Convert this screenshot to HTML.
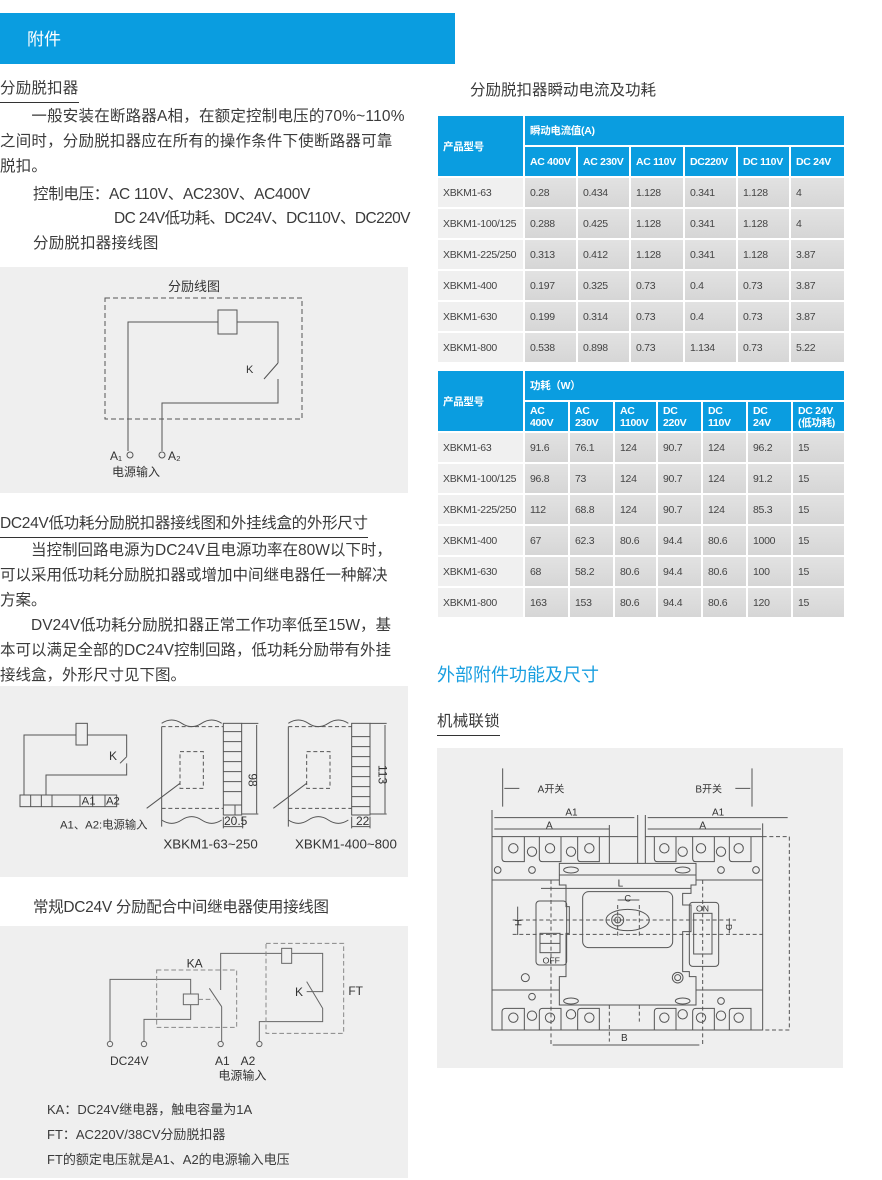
<!DOCTYPE html>
<html><head><meta charset="utf-8"><style>
*{margin:0;padding:0;box-sizing:border-box}
body{width:882px;height:1180px;background:#fff;position:relative;overflow:hidden;font-family:"Liberation Sans","Noto Sans CJK SC",sans-serif;color:#3a3a3a}
.a{position:absolute;white-space:nowrap}
.t{font-size:15.5px;line-height:25px;letter-spacing:0.2px}
.u{border-bottom:1.5px solid #333;padding-bottom:1px}
.panel{position:absolute;background:#efefef}
table{position:absolute;border-collapse:collapse;font-size:10.5px;font-family:"Liberation Sans","Noto Sans CJK SC",sans-serif;table-layout:fixed}
td,th{border:2px solid #fff;padding:0 0 0 5px;text-align:left;height:31px;white-space:nowrap;overflow:hidden;letter-spacing:-0.3px}
th{background:#0a9de0;color:#fff;font-weight:bold;font-size:10.5px}
td{background:linear-gradient(#e2e2e2,#d6d6d6);color:#444}
td.f{background:#f0f0f0}
svg{position:absolute}
svg text{font-family:"Liberation Sans","Noto Sans CJK SC",sans-serif;fill:#333}
</style></head><body>

<div class="a" style="left:0;top:13px;width:455px;height:51px;background:#0a9de0"></div>
<div class="a" style="left:27px;top:25px;color:#fff;font-size:17px">附件</div>

<div class="a t u" style="left:0;top:76px">分励脱扣器</div>
<div class="a t" style="left:0;top:104px">　　一般安装在断路器A相，在额定控制电压的70%~110%<br>之间时，分励脱扣器应在所有的操作条件下使断路器可靠<br>脱扣。</div>
<div class="a t" style="left:33px;top:182px;letter-spacing:-0.3px">控制电压：AC 110V、AC230V、AC400V</div>
<div class="a t" style="left:114px;top:206px;letter-spacing:-0.6px">DC 24V低功耗、DC24V、DC110V、DC220V</div>
<div class="a t" style="left:33px;top:231px">分励脱扣器接线图</div>

<div class="panel" style="left:0;top:267px;width:408px;height:226px"></div>
<svg style="left:0;top:267px" width="408" height="226" viewBox="0 0 408 226">
<text x="168" y="24" font-size="13">分励线图</text>
<rect x="105" y="31" width="197" height="121" fill="none" stroke="#555" stroke-dasharray="5,3"/>
<rect x="218" y="43" width="19" height="24" fill="none" stroke="#555"/>
<g fill="none" stroke="#555">
<polyline points="237,55 278,55 278,96"/>
<line x1="278" y1="96" x2="264" y2="112"/>
<polyline points="278,112 278,136 171,136 162,136 162,184"/>
<polyline points="218,55 128,55 128,184"/>
<circle cx="130" cy="188" r="3"/><circle cx="162" cy="188" r="3"/>
</g>
<text x="246" y="106" font-size="11">K</text>
<text x="110" y="193" font-size="12">A₁</text><text x="168" y="193" font-size="12">A₂</text>
<text x="112" y="209" font-size="12">电源输入</text>
</svg>

<div class="a t u" style="left:0;top:511px;letter-spacing:-0.3px">DC24V低功耗分励脱扣器接线图和外挂线盒的外形尺寸</div>
<div class="a t" style="left:0;top:538px;letter-spacing:0">　　当控制回路电源为DC24V且电源功率在80W以下时，<br>可以采用低功耗分励脱扣器或增加中间继电器任一种解决<br>方案。<br>　　DV24V低功耗分励脱扣器正常工作功率低至15W，基<br>本可以满足全部的DC24V控制回路，低功耗分励带有外挂<br>接线盒，外形尺寸见下图。</div>

<div class="panel" style="left:0;top:686px;width:408px;height:191px"></div>
<svg style="left:0;top:680px" width="410" height="200" viewBox="0 0 1230 600">
<g fill="none" stroke="#555" stroke-width="3">
<rect x="228" y="130" width="34" height="65"/>
<polyline points="228,165 72,165 72,345"/>
<polyline points="262,165 380,165 380,230"/>
<line x1="380" y1="230" x2="360" y2="250"/>
<polyline points="380,250 380,285 138,285 138,345"/>
<rect x="60" y="345" width="290" height="35"/>
<line x1="92" y1="345" x2="92" y2="380"/><line x1="124" y1="345" x2="124" y2="380"/><line x1="156" y1="345" x2="156" y2="380"/><line x1="240" y1="345" x2="240" y2="380"/><line x1="278" y1="345" x2="278" y2="380"/><line x1="315" y1="345" x2="315" y2="380"/>
<path d="M485,140 V440 M485,130 q30,-20 60,0 t60,0 t60,0"/>
<path d="M485,420 q30,20 60,0 t60,0 t60,0"/>
<rect x="670" y="130" width="55" height="275"/>
<path d="M670,155 h55 M670,185 h55 M670,215 h55 M670,245 h55 M670,275 h55 M670,305 h55 M670,335 h55 M670,375 h55 M705,375 v30"/>
<path d="M725,130 h50 M725,402 h50 M770,135 v265 M670,440 h60 M670,410 v35 M728,410 v35"/>
<path d="M865,140 V440 M865,130 q30,-20 60,0 t60,0 t60,0 M865,420 q30,20 60,0 t60,0 t60,0"/>
<rect x="1055" y="130" width="55" height="275"/>
<path d="M1055,170 h55 M1055,200 h55 M1055,230 h55 M1055,260 h55 M1055,290 h55 M1055,320 h55 M1055,350 h55 M1055,380 h55 M1110,130 h50 M1110,402 h50 M1155,135 v265 M1055,440 h55 M1055,410 v35 M1110,410 v35"/>
<path d="M440,385 L540,310 M820,385 L920,310"/>
</g>
<g fill="none" stroke="#555" stroke-width="3" stroke-dasharray="12,8">
<path d="M485,140 H670 M485,385 H670 M865,140 H1055 M865,385 H1055"/>
<rect x="540" y="215" width="70" height="110"/><rect x="920" y="215" width="70" height="110"/>
</g>
<text x="327" y="240" font-size="36">K</text>
<text x="245" y="374" font-size="34">A1</text><text x="318" y="374" font-size="34">A2</text>
<text x="180" y="445" font-size="34">A1、A2:电源输入</text>
<text x="672" y="435" font-size="36">20.5</text><text x="1068" y="435" font-size="36">22</text>
<text x="745" y="280" font-size="36" transform="rotate(90 745 280)">98</text>
<text x="1135" y="255" font-size="36" transform="rotate(90 1135 255)">113</text>
<text x="490" y="505" font-size="40">XBKM1-63~250</text><text x="885" y="505" font-size="40">XBKM1-400~800</text>
</svg>

<div class="a t" style="left:33px;top:895px;letter-spacing:-0.3px">常规DC24V 分励配合中间继电器使用接线图</div>
<div class="panel" style="left:0;top:926px;width:408px;height:252px"></div>
<svg style="left:0;top:920px" width="410" height="180" viewBox="0 0 1230 540">
<g fill="none" stroke="#666" stroke-width="3">
<polyline points="330,365 330,178 572,178 572,222"/>
<rect x="550" y="222" width="45" height="32"/>
<polyline points="572,254 572,298 432,298 432,365"/>
<path d="M628,205 L665,260 M665,260 V365 M662,210 V100 H845"/>
<rect x="845" y="85" width="30" height="45"/>
<polyline points="875,100 968,100 968,215 920,215"/>
<path d="M920,185 L968,265 V305 H778 V365"/>
<circle cx="330" cy="372" r="8"/><circle cx="432" cy="372" r="8"/><circle cx="662" cy="372" r="8"/><circle cx="778" cy="372" r="8"/>
</g>
<g fill="none" stroke="#888" stroke-width="3" stroke-dasharray="14,8">
<rect x="470" y="150" width="240" height="172"/><rect x="798" y="70" width="233" height="270"/>
<path d="M595,238 H640"/>
</g>
<text x="560" y="142" font-size="36">KA</text><text x="885" y="228" font-size="36">K</text><text x="1045" y="225" font-size="36">FT</text>
<text x="330" y="435" font-size="36">DC24V</text><text x="645" y="435" font-size="36">A1</text><text x="722" y="435" font-size="36">A2</text>
<text x="655" y="478" font-size="36">电源输入</text>
</svg>
<div class="a" style="left:47px;top:1097px;font-size:13px;line-height:25px">KA：DC24V继电器，触电容量为1A<br>FT：AC220V/38CV分励脱扣器<br>FT的额定电压就是A1、A2的电源输入电压</div>

<div class="a t" style="left:470px;top:78px;letter-spacing:0">分励脱扣器瞬动电流及功耗</div>

<table style="left:436px;top:114px;width:408px">
<colgroup><col style="width:87px"><col style="width:53px"><col style="width:53px"><col style="width:54px"><col style="width:53px"><col style="width:53px"><col style="width:55px"></colgroup>
<tr><th rowspan="2" style="height:62px">产品型号</th><th colspan="6">瞬动电流值(A)</th></tr>
<tr><th>AC 400V</th><th>AC 230V</th><th>AC 110V</th><th>DC220V</th><th>DC 110V</th><th>DC 24V</th></tr>
<tr><td class="f">XBKM1-63</td><td>0.28</td><td>0.434</td><td>1.128</td><td>0.341</td><td>1.128</td><td>4</td></tr>
<tr><td class="f">XBKM1-100/125</td><td>0.288</td><td>0.425</td><td>1.128</td><td>0.341</td><td>1.128</td><td>4</td></tr>
<tr><td class="f">XBKM1-225/250</td><td>0.313</td><td>0.412</td><td>1.128</td><td>0.341</td><td>1.128</td><td>3.87</td></tr>
<tr><td class="f">XBKM1-400</td><td>0.197</td><td>0.325</td><td>0.73</td><td>0.4</td><td>0.73</td><td>3.87</td></tr>
<tr><td class="f">XBKM1-630</td><td>0.199</td><td>0.314</td><td>0.73</td><td>0.4</td><td>0.73</td><td>3.87</td></tr>
<tr><td class="f">XBKM1-800</td><td>0.538</td><td>0.898</td><td>0.73</td><td>1.134</td><td>0.73</td><td>5.22</td></tr>
</table>

<table style="left:436px;top:369px;width:408px">
<colgroup><col style="width:87px"><col style="width:45px"><col style="width:45px"><col style="width:43px"><col style="width:45px"><col style="width:45px"><col style="width:45px"><col style="width:53px"></colgroup>
<tr><th rowspan="2" style="height:62px">产品型号</th><th colspan="7">功耗（W）</th></tr>
<tr style="line-height:12px"><th>AC<br>400V</th><th>AC<br>230V</th><th>AC<br>1100V</th><th>DC<br>220V</th><th>DC<br>110V</th><th>DC<br>24V</th><th>DC 24V<br>(低功耗)</th></tr>
<tr><td class="f">XBKM1-63</td><td>91.6</td><td>76.1</td><td>124</td><td>90.7</td><td>124</td><td>96.2</td><td>15</td></tr>
<tr><td class="f">XBKM1-100/125</td><td>96.8</td><td>73</td><td>124</td><td>90.7</td><td>124</td><td>91.2</td><td>15</td></tr>
<tr><td class="f">XBKM1-225/250</td><td>112</td><td>68.8</td><td>124</td><td>90.7</td><td>124</td><td>85.3</td><td>15</td></tr>
<tr><td class="f">XBKM1-400</td><td>67</td><td>62.3</td><td>80.6</td><td>94.4</td><td>80.6</td><td>1000</td><td>15</td></tr>
<tr><td class="f">XBKM1-630</td><td>68</td><td>58.2</td><td>80.6</td><td>94.4</td><td>80.6</td><td>100</td><td>15</td></tr>
<tr><td class="f">XBKM1-800</td><td>163</td><td>153</td><td>80.6</td><td>94.4</td><td>80.6</td><td>120</td><td>15</td></tr>
</table>

<div class="a" style="left:437px;top:661px;font-size:18px;color:#1a9fe0">外部附件功能及尺寸</div>
<div class="a t u" style="left:437px;top:709px">机械联锁</div>

<div class="panel" style="left:437px;top:748px;width:406px;height:320px"></div>
<svg style="left:436px;top:745px" width="410" height="325" viewBox="0 0 1230 975">
<g fill="none" stroke="#555" stroke-width="3">
<path d="M200,70 V185 M948,70 V185 M205,130 h45 M943,130 h-45"/>
<path d="M168,195 V855 H980 V235 M605,210 V355 M628,210 V355"/>
<path d="M175,218 H595 M175,252 H520 M635,218 H1055 M635,252 H975 M520,240 V355"/>
<path d="M168,275 H605 M628,275 H980 M168,405 H370 M780,405 H980 M168,735 H370 M780,735 H980"/>
<path d="M370,355 H780 V420 H765 V445 H740 V480 H765 V560 H740 V680 H760 V695 H780 V780 H370 V695 H390 V565 H400 V485 H390 V420 H370 Z"/>
<path d="M370,390 H780"/>
<rect x="440" y="440" width="270" height="168" rx="18"/>
<ellipse cx="575" cy="525" rx="65" ry="32"/><circle cx="545" cy="525" r="18"/><circle cx="545" cy="525" r="9"/>
<rect x="300" y="468" width="92" height="192" rx="10"/><rect x="312" y="565" width="60" height="58"/><path d="M312,595 h60"/>
<rect x="760" y="472" width="88" height="192" rx="10"/><rect x="773" y="505" width="55" height="122"/>
<path d="M315,430 H765 M245,485 V570 M880,520 V565"/>
<path d="M350,900 H790 M545,465 H610"/>
<circle cx="268" cy="698" r="12"/><circle cx="725" cy="698" r="16"/><circle cx="725" cy="698" r="9"/>
<path d="M198,275 V340 Q198,350 210,350 H265 V275 M310,275 V340 Q310,350 320,350 H375 V275 M425,275 V340 Q425,350 435,350 H490 V275"/>
<path d="M655,275 V340 Q655,350 665,350 H720 V275 M770,275 V340 Q770,350 780,350 H835 V275 M880,275 V340 Q880,350 890,350 H945 V275"/>
<path d="M198,855 V800 Q198,790 210,790 H265 V855 M310,855 V800 Q310,790 320,790 H375 V855 M425,855 V800 Q425,790 435,790 H490 V855"/>
<path d="M655,855 V800 Q655,790 665,790 H720 V855 M770,855 V800 Q770,790 780,790 H835 V855 M880,855 V800 Q880,790 890,790 H945 V855"/>
<circle cx="232" cy="310" r="14"/><circle cx="342" cy="310" r="14"/><circle cx="460" cy="310" r="14"/><circle cx="288" cy="320" r="14"/><circle cx="405" cy="320" r="14"/>
<circle cx="685" cy="310" r="14"/><circle cx="795" cy="310" r="14"/><circle cx="908" cy="310" r="14"/><circle cx="740" cy="320" r="14"/><circle cx="855" cy="320" r="14"/>
<circle cx="232" cy="818" r="14"/><circle cx="342" cy="818" r="14"/><circle cx="460" cy="818" r="14"/><circle cx="288" cy="812" r="14"/><circle cx="405" cy="808" r="14"/>
<circle cx="685" cy="818" r="14"/><circle cx="795" cy="818" r="14"/><circle cx="908" cy="818" r="14"/><circle cx="740" cy="808" r="14"/><circle cx="855" cy="812" r="14"/>
<circle cx="185" cy="375" r="10"/><circle cx="288" cy="375" r="10"/><circle cx="855" cy="375" r="10"/><circle cx="960" cy="375" r="10"/>
<circle cx="288" cy="755" r="10"/><circle cx="855" cy="768" r="10"/>
<ellipse cx="405" cy="375" rx="22" ry="9"/><ellipse cx="740" cy="375" rx="22" ry="9"/><ellipse cx="405" cy="768" rx="22" ry="9"/><ellipse cx="740" cy="768" rx="22" ry="9"/>
</g>
<g fill="none" stroke="#555" stroke-width="3" stroke-dasharray="12,8">
<path d="M345,405 V905 M800,405 V905 M520,780 V890 M610,780 V830"/>
<path d="M230,525 H900 M230,568 H980 M980,275 H1060 V855 H980 M545,480 V580 M610,480 V580"/>
</g>
<text x="305" y="143" font-size="30">A开关</text><text x="778" y="143" font-size="30">B开关</text>
<text x="388" y="212" font-size="30">A1</text><text x="828" y="212" font-size="30">A1</text>
<text x="330" y="250" font-size="30">A</text><text x="790" y="250" font-size="30">A</text>
<text x="545" y="425" font-size="30">L</text><text x="565" y="470" font-size="28">C</text>
<text x="780" y="500" font-size="26">ON</text><text x="320" y="655" font-size="26">OFF</text>
<text x="555" y="888" font-size="30">B</text>
<text x="235" y="535" font-size="28" transform="rotate(-90 250 528)">H</text>
<text x="862" y="545" font-size="26" transform="rotate(90 870 545)">D</text>
</svg>
</body></html>
